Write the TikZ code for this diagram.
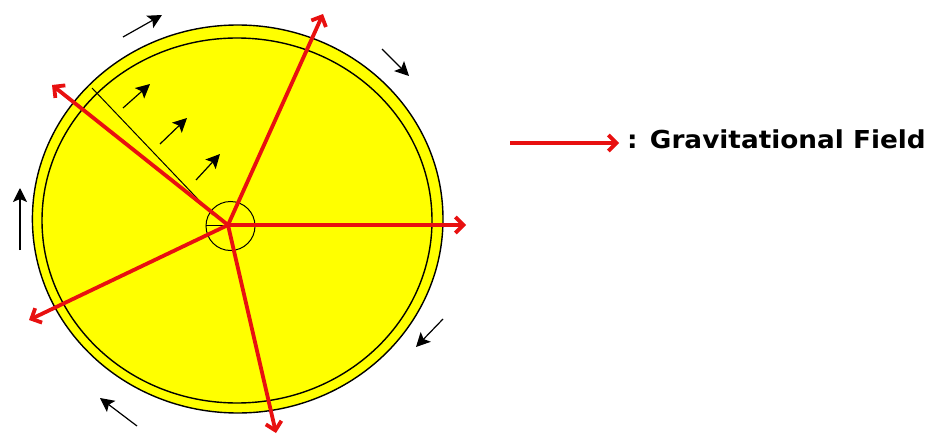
\documentclass[tikz,border=0pt]{standalone}
\usepackage{fontspec}
\setmainfont{DejaVu Sans}
\usetikzlibrary{arrows.meta}
\definecolor{disk}{RGB}{255,255,0}
\definecolor{fieldred}{RGB}{232,16,16}
\begin{document}
\begin{tikzpicture}[x=1pt,y=-1pt,
  field/.style={draw=fieldred, line width=3.8pt, -{Straight Barb[length=8pt,width=16pt]}},
  motion/.style={draw=black, line width=1.2pt, -{Stealth[length=14pt,width=14pt,inset=3pt]}},
  rim/.style={draw=black, line width=1.4pt},
  thin/.style={draw=black, line width=1pt}]
\useasboundingbox (0,0) rectangle (927,436);
% disk
\fill[disk] (237.7,219) ellipse [x radius=205.3, y radius=194];
\draw[rim] (237.7,219) ellipse [x radius=205.3, y radius=194];
\draw[rim] (237,220.5) ellipse [x radius=195, y radius=182.5];
% core
\coordinate (c) at (228,225);
\coordinate (cc) at (230.5,226);
\draw[thin] (cc) circle [radius=24.5];
\coordinate (cl) at (206,225);
\draw[thin] (cl) -- (c);
% radius line
\coordinate (r1) at (92,88);
\coordinate (r2) at (213,215);
\draw[thin] (r1) -- (r2);
% inner motion arrows
\coordinate (i1a) at (123,108); \coordinate (i1b) at (150,84);
\coordinate (i2a) at (160,144); \coordinate (i2b) at (187,118);
\coordinate (i3a) at (196,180); \coordinate (i3b) at (220,154);
\draw[motion] (i1a) -- (i1b);
\draw[motion] (i2a) -- (i2b);
\draw[motion] (i3a) -- (i3b);
% outer motion arrows
\coordinate (o1a) at (123,37);  \coordinate (o1b) at (162,15);
\coordinate (o2a) at (382,49);  \coordinate (o2b) at (409,76);
\coordinate (o3a) at (20,250);  \coordinate (o3b) at (20,188);
\coordinate (o4a) at (443,319); \coordinate (o4b) at (416,347);
\coordinate (o5a) at (137,426); \coordinate (o5b) at (100,398);
\draw[motion] (o1a) -- (o1b);
\draw[motion] (o2a) -- (o2b);
\draw[motion] (o3a) -- (o3b);
\draw[motion] (o4a) -- (o4b);
\draw[motion] (o5a) -- (o5b);
% field arrows
\coordinate (f1) at (323,14);
\coordinate (f2) at (52,85);
\coordinate (f3) at (466,225);
\coordinate (f4) at (29,320);
\coordinate (f5) at (276,433);
\foreach \t in {f1,f2,f3,f4,f5} \draw[field] (c) -- (\t);
% legend
\coordinate (la) at (510,143);
\coordinate (lb) at (619,143);
\draw[field] (la) -- (lb);
\node[anchor=base west, inner sep=0pt, font=\bfseries\fontsize{24.7}{30}\selectfont] (legend) at (627,148)
  {\scalebox{1.065}[1]{: Gravitational Field}};
\end{tikzpicture}
\end{document}
